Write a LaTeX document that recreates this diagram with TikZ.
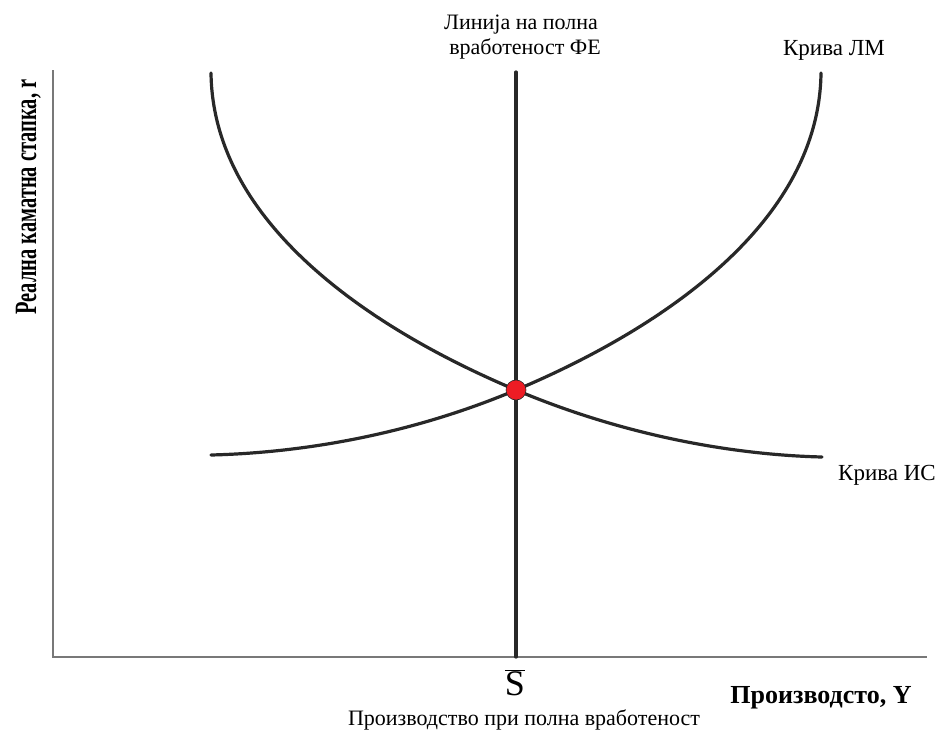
\documentclass[tikz,border=0pt]{standalone}
\usepackage{fontspec}
\setmainfont{Liberation Serif}
\usetikzlibrary{positioning}
\definecolor{curvegray}{RGB}{40,40,40}
\definecolor{axisgray}{RGB}{120,120,120}
\definecolor{eqred}{RGB}{237,28,36}
\tikzset{
  econaxis/.style={draw=axisgray, line width=1.3pt},
  econcurve/.style={draw=curvegray, line width=3.2pt, line cap=round},
  econlabel/.style={align=center, font=\fontsize{22}{25}\selectfont, inner sep=0pt},
  econtitle/.style={font=\fontsize{26}{30}\selectfont\bfseries, inner sep=0pt, anchor=base},
  econdot/.style={circle, fill=eqred, draw=curvegray, line width=0.6pt, minimum size=20pt, inner sep=0pt}
}

\begin{document}
\begin{tikzpicture}[x=1pt, y=-1pt]
\useasboundingbox (0,0) rectangle (936,736);
\coordinate (origin) at (53,657);
\coordinate (ytop) at (53,70);
\coordinate (xend) at (927,657);
\coordinate (fetop) at (516,72);
\coordinate (febot) at (516,657);
\coordinate (eq) at (516,390);
\coordinate (istop) at (211,73);
\coordinate (isend) at (822,457);
\coordinate (lmstart) at (211,455);
\coordinate (lmtop) at (821,73);
\draw[econaxis] (ytop) -- (origin) -- (xend);
\draw[econcurve] (fetop) -- (febot);
\draw[econcurve] (istop) .. controls (213,230) and (385,335) .. (eq)
  .. controls (630,438) and (740,455) .. (isend);
\draw[econcurve] (lmstart) .. controls (292,453) and (402,438) .. (eq)
  .. controls (647,335) and (819,230) .. (lmtop);
\node[econdot] (eqdot) at (eq) {};
\node[econlabel] (felab) at (521,37) {Линија на полна\\\hspace*{8pt}вработеност ФЕ};
\node[econlabel, font=\fontsize{23}{26}\selectfont] (lmlab) at (834,50) {Крива ЛМ};
\node[econlabel, font=\fontsize{23}{26}\selectfont] (islab) at (887,475) {Крива ИС};
\node[econtitle, font=\fontsize{31}{35}\selectfont\bfseries, rotate=90] (ylab) at (36,197) {\scalebox{0.66}[1]{Реална каматна стапка, r}};
\node[econtitle] (xlab) at (821,703) {Производсто, Y};
\node[font=\fontsize{36}{40}\selectfont, inner sep=0pt] (sbar) at (515,683) {$\overline{\mbox{S}}$};
\node[econlabel] (sdesc) at (524,720) {Производство при полна вработеност};
\end{tikzpicture}
\end{document}
